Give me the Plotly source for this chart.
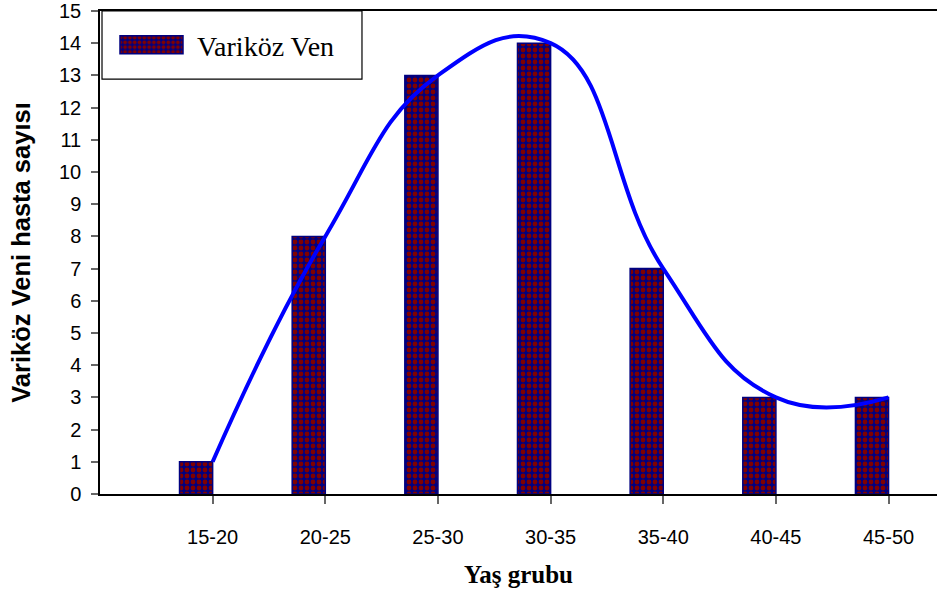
import plotly.graph_objects as go

# Patient counts per age group
age_groups = ["15-20", "20-25", "25-30", "30-35", "35-40", "40-45", "45-50"]
patients = [1, 8, 13, 14, 7, 3, 3]
y_tick_values = list(range(0, 16))

NAVY = "#000080"
MAROON = "#800000"
LINE_BLUE = "#0000FF"
SANS = "Liberation Sans, Arial, sans-serif"
SERIF = "Liberation Serif, Times New Roman, serif"

BAR_WIDTH = 0.294

fig = go.Figure()

# Checkered bars, right edge sitting on each category tick
fig.add_trace(go.Bar(
    x=age_groups,
    y=patients,
    name="Variköz Ven",
    width=BAR_WIDTH,
    offset=-BAR_WIDTH,
    marker=dict(
        color=NAVY,
        line=dict(color=NAVY, width=1.5),
        pattern=dict(shape=".", size=6, solidity=0.5,
                     fgcolor=MAROON, bgcolor=NAVY, fillmode="replace"),
    ),
    hoverinfo="x+y",
))

# Smoothed trend curve through the counts
fig.add_trace(go.Scatter(
    x=age_groups,
    y=patients,
    mode="lines",
    line=dict(color=LINE_BLUE, width=4, shape="spline", smoothing=1.3),
    showlegend=False,
    hoverinfo="skip",
))

fig.update_layout(
    width=937,
    height=601,
    margin=dict(l=100, r=0, t=11, b=107),
    paper_bgcolor="white",
    plot_bgcolor="white",
    showlegend=True,
    legend=dict(
        x=0.00717, xanchor="left",
        y=0.9295, yanchor="middle",
        bgcolor="rgba(0,0,0,0)",
        borderwidth=0,
        itemwidth=81,
        font=dict(family=SERIF, size=28, color="black"),
    ),
    shapes=[dict(
        type="rect", xref="paper", yref="paper",
        x0=0.0024, x1=0.313, y0=0.859, y1=1.0,
        line=dict(color="black", width=1.2),
        fillcolor="rgba(0,0,0,0)",
        layer="above",
    )],
    xaxis=dict(
        type="category",
        range=[-1.0, 6.43],
        showline=True, linecolor="black", linewidth=1.5,
        mirror=True,
        ticks="outside", ticklen=8, tickcolor="#666666", tickwidth=1.5,
        tickfont=dict(family=SANS, size=20, color="black"),
        ticklabelstandoff=16,
        showgrid=False, zeroline=False,
        title=dict(text="Yaş grubu", standoff=19,
                   font=dict(family=SERIF, size=25, color="black", weight="bold")),
    ),
    yaxis=dict(
        range=[0, 15],
        tickvals=y_tick_values,
        showline=True, linecolor="black", linewidth=1.5,
        ticks="outside", ticklen=7, tickcolor="#666666", tickwidth=1.5,
        tickfont=dict(family=SANS, size=20, color="black"),
        ticklabelstandoff=6,
        showgrid=False, zeroline=False,
        title=dict(text="Variköz Veni hasta sayısı", standoff=21,
                   font=dict(family=SANS, size=25.5, color="black", weight="bold")),
    ),
)

# Widen the legend swatch into a flat bar sample (re-applied after each redraw)
legend_swatch_js = """
var gd = document.getElementById('{plot_id}');
function widenSwatch() {
    gd.querySelectorAll('g.legendpoints path').forEach(function(p) {
        p.setAttribute('d', 'M31.5,9H-31.5V-9H31.5Z');
    });
}
widenSwatch();
gd.on('plotly_afterplot', widenSwatch);
setTimeout(widenSwatch, 50);
setTimeout(widenSwatch, 300);
"""

fig.write_html("out.html", post_script=legend_swatch_js)
